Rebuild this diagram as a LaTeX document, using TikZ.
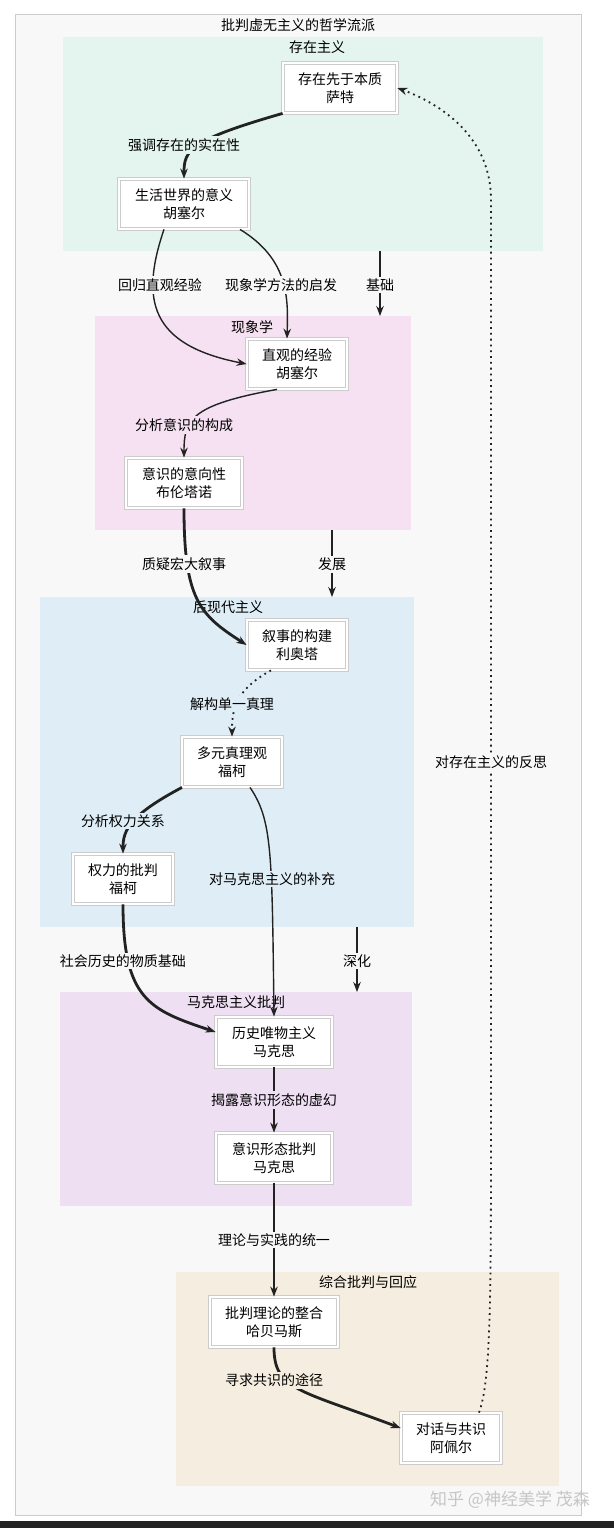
\documentclass[tikz,border=0pt]{standalone}
\usepackage{fontspec}
\setmainfont{Noto Sans CJK SC}
\usetikzlibrary{arrows.meta}
\definecolor{outer}{HTML}{F8F8F8}
\definecolor{cgreen}{HTML}{E3F5EE}
\definecolor{cpink}{HTML}{F5E1F1}
\definecolor{cblue}{HTML}{DFEEF6}
\definecolor{clav}{HTML}{EEDFF3}
\definecolor{cbeige}{HTML}{F5EEE0}
\definecolor{ink}{HTML}{222222}
\tikzset{
 box/.style={draw=gray!40,fill=white,double=white,double distance=1.2pt,minimum width=#1,minimum height=25pt,align=center,font=\fontsize{7}{9}\selectfont,inner sep=1pt},
 box/.default=50pt,
 lab/.style={font=\fontsize{7}{8.5}\selectfont,inner sep=1pt},
 thin/.style={draw=ink,line width=0.7pt,-{Stealth[length=5pt]}},
 thick/.style={draw=ink,line width=1.4pt,-{Stealth[length=5pt]}},
 dot/.style={draw=ink,line width=0.9pt,dotted,-{Stealth[length=5pt]}},
}
\begin{document}
\begin{tikzpicture}[x=0.5pt,y=-0.5pt]
\useasboundingbox (0,0) rectangle (614,1528);
\fill[white] (0,0) rectangle (614,1528);
\draw[gray!40,fill=outer] (15,14) rectangle (581,1515);
\node[lab] (title) at (298,25) {批判虚无主义的哲学流派};
\fill[cgreen] (63,37) rectangle (543,251);
\fill[cpink] (95,316) rectangle (411,530);
\fill[cblue] (40,597) rectangle (414,927);
\fill[clav] (60,992) rectangle (412,1206);
\fill[cbeige] (176,1272) rectangle (559,1486);
\node[lab] (t1) at (317,47) {存在主义};
\node[lab] (t2) at (252,327) {现象学};
\node[lab] (t3) at (228,607) {后现代主义};
\node[lab] (t4) at (236,1002) {马克思主义批判};
\node[lab] (t5) at (368,1282) {综合批判与回应};
\coordinate (c1b) at (380,251); \coordinate (c2t) at (380,316);
\coordinate (c2b) at (332,530); \coordinate (c3t) at (332,597);
\coordinate (c3b) at (357,927); \coordinate (c4t) at (357,992);

\node[box=57pt] (a) at (340,88) {存在先于本质\\萨特};
\node[box=65pt] (b) at (184,204) {生活世界的意义\\胡塞尔};
\node[box=50pt] (c) at (297,364) {直观的经验\\胡塞尔};
\node[box=58pt] (d) at (184,483) {意识的意向性\\布伦塔诺};
\node[box=50pt] (e) at (297,645) {叙事的构建\\利奥塔};
\node[box=50pt] (f) at (232,762) {多元真理观\\福柯};
\node[box=50pt] (g) at (123,879) {权力的批判\\福柯};
\node[box=58pt] (h) at (274,1042) {历史唯物主义\\马克思};
\node[box=58pt] (i) at (274,1158) {意识形态批判\\马克思};
\node[box=64pt] (j) at (274,1322) {批判理论的整合\\哈贝马斯};
\node[box=50pt] (k) at (451,1438) {对话与共识\\阿佩尔};

\draw[thick] (a.south west) .. controls (190,140) and (184,150) .. (b.north);
\node[lab,fill=cgreen] at (184,145) {强调存在的实在性};
\draw[thin] ([xshift=-10pt]b.south) .. controls (140,300) and (150,345) .. (c.west);
\node[lab,fill=outer] at (160,285) {回归直观经验};
\draw[thin] ([xshift=28pt]b.south) .. controls (290,260) and (288,300) .. ([xshift=-5pt]c.north);
\node[lab,fill=outer] at (281,285) {现象学方法的启发};
\draw[thick] (c1b) -- (c2t); \node[lab,fill=outer] at (380,285) {基础};
\draw[thin] ([xshift=-10pt]c.south) .. controls (190,405) and (184,420) .. (d.north);
\node[lab,fill=cpink] at (184,425) {分析意识的构成};
\draw[thick] (d.south) .. controls (184,600) and (200,615) .. (e.west);
\node[lab,fill=outer] at (184,564) {质疑宏大叙事};
\draw[thick] (c2b) -- (c3t); \node[lab,fill=outer] at (332,564) {发展};
\draw[dot] ([xshift=-13pt]e.south) .. controls (235,690) and (232,710) .. (f.north);
\node[lab,fill=cblue] at (232,704) {解构单一真理};
\draw[thick] ([xshift=-25pt]f.south) .. controls (130,815) and (123,830) .. (g.north);
\node[lab,fill=cblue] at (123,821) {分析权力关系};
\draw[thin] ([xshift=9pt]f.south) .. controls (272,820) and (272,850) .. (h.north);
\node[lab,fill=cblue] at (272,879) {对马克思主义的补充};
\draw[thick] (g.south) .. controls (123,1000) and (150,1010) .. ([yshift=5pt]h.west);
\node[lab,fill=outer] at (123,961) {社会历史的物质基础};
\draw[thick] (c3b) -- (c4t); \node[lab,fill=outer] at (357,961) {深化};
\draw[thick] (h) -- (i); \node[lab,fill=clav] at (274,1100) {揭露意识形态的虚幻};
\draw[thick] (i) -- (j); \node[lab,fill=outer] at (274,1240) {理论与实践的统一};
\draw[thick] (j.south) .. controls (274,1390) and (300,1390) .. ([yshift=5pt]k.west);
\node[lab,fill=cbeige] at (274,1380) {寻求共识的途径};
\draw[dot] ([xshift=14pt]k.north) .. controls (491,1380) and (491,1300) .. (491,1100) -- (491,200) .. controls (491,130) and (430,100) .. (a.east);
\node[lab,fill=outer] at (491,762) {对存在主义的反思};
\node[font=\fontsize{8.5}{10}\selectfont,text=gray!45] (wm) at (510,1500) {知乎 @神经美学 茂森};
\fill[ink] (0,1521) rectangle (614,1528);
\end{tikzpicture}
\end{document}
